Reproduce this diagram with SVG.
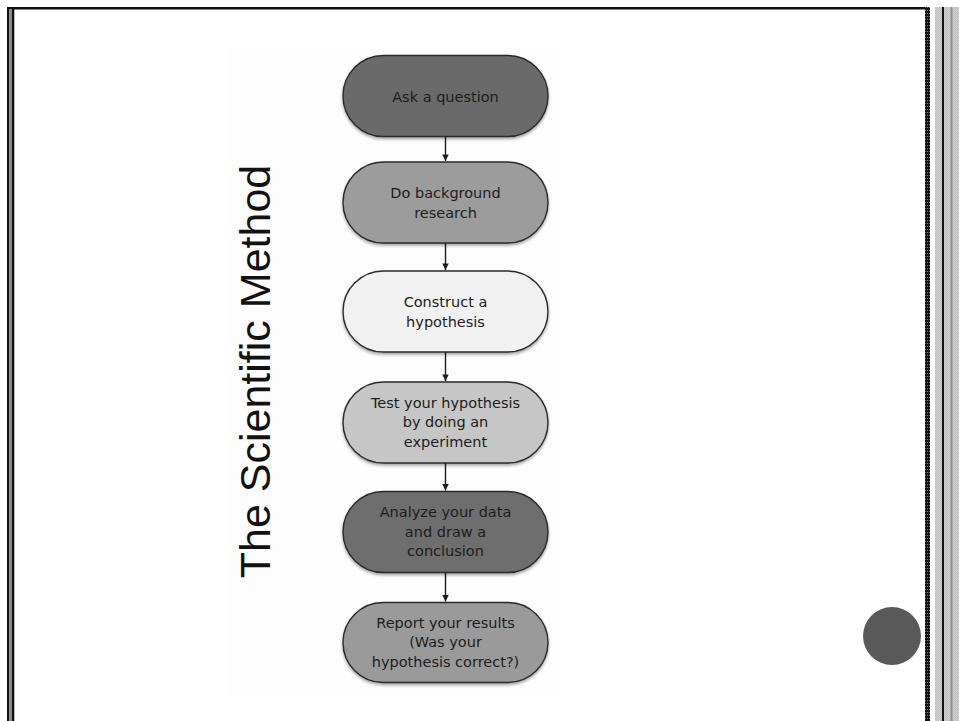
<svg xmlns="http://www.w3.org/2000/svg" width="959" height="721" viewBox="0 0 959 721">
<style>
.node rect{stroke:#2a2a2a;stroke-width:1.4;filter:url(#sh)}
.node text{font-family:"DejaVu Sans",sans-serif;font-size:14.5px;fill:#1c1c1c;text-anchor:middle}
.conn line{stroke:#1c1c1c;stroke-width:1.4}
.title{font-family:"Liberation Sans",Arial,sans-serif;font-size:43px;fill:#111;text-anchor:middle}
</style>
<defs>
<filter id="sh" x="-10%" y="-10%" width="120%" height="130%">
<feDropShadow dx="0" dy="2" stdDeviation="1.8" flood-color="#000" flood-opacity="0.35"/>
</filter>
<marker id="ah" viewBox="0 0 10 10" refX="10" refY="5" markerWidth="8" markerHeight="6.5" markerUnits="userSpaceOnUse" orient="auto">
<path d="M0,0 L10,5 L0,10 z" fill="#1c1c1c"/>
</marker>
<pattern id="dith" width="2" height="2" patternUnits="userSpaceOnUse">
<rect width="2" height="2" fill="#d2d2d2"/>
<rect width="1" height="1" fill="#bcbcbc"/>
<rect x="1" y="1" width="1" height="1" fill="#bcbcbc"/>
</pattern>
<pattern id="dotb" width="2" height="3" patternUnits="userSpaceOnUse">
<rect width="2" height="3" fill="#111"/>
<rect x="1" y="1" width="1" height="1" fill="#777"/>
</pattern>
</defs>
<rect width="959" height="721" fill="#fff"/>
<g id="frame">
<rect x="7" y="7" width="920" height="2.5" fill="#111"/>
<rect x="7" y="7" width="2.3" height="714" fill="#111"/>
<rect x="9.3" y="9" width="2.8" height="712" fill="#8a8a8a"/>
<rect x="12" y="9" width="2.3" height="712" fill="#111"/>
<rect x="925" y="7" width="5" height="714" fill="url(#dotb)"/>
<rect x="935" y="7" width="7" height="714" fill="url(#dith)"/>
<rect x="942" y="7" width="2.2" height="714" fill="#111"/>
<rect x="944.2" y="7" width="14.8" height="714" fill="url(#dith)"/>
<rect x="950.5" y="7" width="2" height="714" fill="#8e8e8e"/>
</g>
<rect x="228" y="47" width="330" height="650" fill="#fdfdfd"/>
<circle id="dot" cx="892" cy="636" r="29" fill="#595959"/>
<text class="title" transform="translate(270,371.5) rotate(-90)">The Scientific Method</text>
<g id="connectors" class="conn">
<line x1="445.5" y1="136.5" x2="445.5" y2="161" marker-end="url(#ah)"/>
<line x1="445.5" y1="243" x2="445.5" y2="270" marker-end="url(#ah)"/>
<line x1="445.5" y1="352" x2="445.5" y2="381" marker-end="url(#ah)"/>
<line x1="445.5" y1="463" x2="445.5" y2="490.5" marker-end="url(#ah)"/>
<line x1="445.5" y1="572.5" x2="445.5" y2="601.5" marker-end="url(#ah)"/>
</g>
<g id="n1" class="node">
<rect x="343" y="55.5" width="205" height="81" rx="40.5" fill="#6b6b6b"/>
<text x="445.5" y="101.5">Ask a question</text>
</g>
<g id="n2" class="node">
<rect x="343" y="162" width="205" height="81" rx="40.5" fill="#9c9c9c"/>
<text x="445.5" y="198">Do background</text>
<text x="445.5" y="217.5">research</text>
</g>
<g id="n3" class="node">
<rect x="343" y="271" width="205" height="81" rx="40.5" fill="#f1f1f1"/>
<text x="445.5" y="307.2">Construct a</text>
<text x="445.5" y="326.7">hypothesis</text>
</g>
<g id="n4" class="node">
<rect x="343" y="382" width="205" height="81" rx="40.5" fill="#c6c6c6"/>
<text x="445.5" y="407.5">Test your hypothesis</text>
<text x="445.5" y="427.2">by doing an</text>
<text x="445.5" y="446.8">experiment</text>
</g>
<g id="n5" class="node">
<rect x="343" y="491.5" width="205" height="81" rx="40.5" fill="#6e6e6e"/>
<text x="445.5" y="516.8">Analyze your data</text>
<text x="445.5" y="536.5">and draw a</text>
<text x="445.5" y="556.2">conclusion</text>
</g>
<g id="n6" class="node">
<rect x="343" y="602.5" width="205" height="80" rx="40" fill="#9a9a9a"/>
<text x="445.5" y="627.5">Report your results</text>
<text x="445.5" y="647.2">(Was your</text>
<text x="445.5" y="666.8">hypothesis correct?)</text>
</g>
</svg>
